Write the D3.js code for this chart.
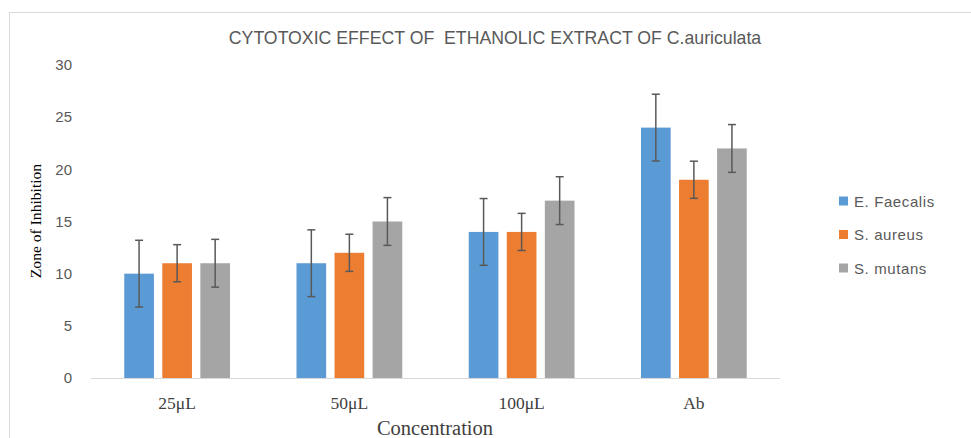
<!DOCTYPE html>
<html><head><meta charset="utf-8">
<script src="https://cdn.jsdelivr.net/npm/d3@7"></script>
<style>
body{margin:0;background:#fff;}
svg{display:block;}
</style></head>
<body><svg id="chart" width="971" height="438"></svg>
<script>
const categories = ["25μL", "50μL", "100μL", "Ab"];
const seriesNames = ["E. Faecalis", "S. aureus", "S. mutans"];
const eFaecalis = [10, 11, 14, 24];
const sAureus = [11, 12, 14, 19];
const sMutans = [11, 15, 17, 22];
const eFaecalisErr = [3.2, 3.2, 3.2, 3.2];
const sAureusErr = [1.78, 1.78, 1.78, 1.78];
const sMutansErr = [2.29, 2.29, 2.29, 2.29];
const yTicks = [0, 5, 10, 15, 20, 25, 30];
const colors = ["#5b9bd5", "#ed7d31", "#a5a5a5"];

const series = [eFaecalis, sAureus, sMutans];
const errs = [eFaecalisErr, sAureusErr, sMutansErr];

const svg = d3.select("#chart");
const sansFont = "'Liberation Sans Narrow','Arial Narrow','Liberation Sans',Arial,sans-serif";
const serifFont = "'Liberation Serif','Times New Roman',serif";
const textColor = "#595959";

// chart border
svg.append("rect").attr("x", 9.5).attr("y", 12.5).attr("width", 980).attr("height", 440)
  .attr("fill", "none").attr("stroke", "#d9d9d9").attr("stroke-width", 1);

const pLeft = 91, pRight = 780, pTop = 65, pBottom = 378;
const x = d3.scaleBand().domain(categories).range([pLeft, pRight]).paddingInner(0.386).paddingOuter(0.193);
const x1 = d3.scaleBand().domain(seriesNames).range([0, x.bandwidth()]).paddingInner(0.22);
const y = d3.scaleLinear().domain([0, 30]).range([pBottom, pTop]);

// title
svg.append("text").attr("x", 495).attr("y", 38).attr("text-anchor", "middle")
  .attr("dominant-baseline", "central").attr("font-family", sansFont).attr("font-size", 17.7)
  .attr("fill", textColor).style("white-space", "pre")
  .text("CYTOTOXIC EFFECT OF  ETHANOLIC EXTRACT OF C.auriculata");

// y axis labels
const yAxis = d3.axisLeft(y).tickValues(yTicks).tickSize(0).tickPadding(0);
const yg = svg.append("g").attr("transform", `translate(${72},0)`).call(yAxis);
yg.select(".domain").remove();
yg.selectAll("text").attr("font-family", sansFont).attr("font-size", 15).attr("fill", textColor);

// baseline
svg.append("line").attr("x1", pLeft).attr("x2", pRight).attr("y1", y(0) + 0.5).attr("y2", y(0) + 0.5)
  .attr("stroke", "#d9d9d9").attr("stroke-width", 1);

// bars
const groups = svg.append("g").selectAll("g").data(categories).join("g")
  .attr("transform", d => `translate(${x(d)},0)`);
seriesNames.forEach((s, si) => {
  groups.append("rect")
    .attr("x", x1(s)).attr("width", x1.bandwidth())
    .attr("y", (d, i) => y(series[si][i]))
    .attr("height", (d, i) => y(0) - y(series[si][i]))
    .attr("fill", colors[si]);
});

// error bars
seriesNames.forEach((s, si) => {
  const g = groups.append("g").attr("stroke", "#595959").attr("stroke-width", 1.5);
  const cx = x1(s) + x1.bandwidth() / 2;
  g.append("line").attr("x1", cx).attr("x2", cx)
    .attr("y1", (d, i) => y(series[si][i] + errs[si][i]))
    .attr("y2", (d, i) => y(series[si][i] - errs[si][i]));
  g.append("line").attr("x1", cx - 4).attr("x2", cx + 4)
    .attr("y1", (d, i) => y(series[si][i] + errs[si][i]))
    .attr("y2", (d, i) => y(series[si][i] + errs[si][i]));
  g.append("line").attr("x1", cx - 4).attr("x2", cx + 4)
    .attr("y1", (d, i) => y(series[si][i] - errs[si][i]))
    .attr("y2", (d, i) => y(series[si][i] - errs[si][i]));
});

// x axis labels
const xAxis = d3.axisBottom(x).tickSize(0).tickPadding(0);
const xg = svg.append("g").attr("transform", `translate(0,${403})`).call(xAxis);
xg.select(".domain").remove();
xg.selectAll("text").attr("font-family", serifFont).attr("font-size", 17.5).attr("fill", "#404040")
  .attr("dy", null).attr("dominant-baseline", "central");

// axis titles
svg.append("text").attr("x", 435).attr("y", 428).attr("text-anchor", "middle")
  .attr("dominant-baseline", "central").attr("font-family", serifFont).attr("font-size", 20.5)
  .attr("fill", "#404040").text("Concentration");
svg.append("text").attr("transform", "translate(35,221) rotate(-90)").attr("text-anchor", "middle")
  .attr("dominant-baseline", "central").attr("font-family", serifFont).attr("font-size", 15.6)
  .attr("fill", "#000").text("Zone of Inhibition");

// legend
const legend = svg.append("g");
seriesNames.forEach((s, i) => {
  const ly = 201 + i * 33.5;
  legend.append("rect").attr("x", 839).attr("y", ly - 4.5).attr("width", 9).attr("height", 9).attr("fill", colors[i]);
  legend.append("text").attr("x", 854).attr("y", ly).attr("dominant-baseline", "central")
    .attr("font-family", sansFont).attr("font-size", 15).attr("letter-spacing", 0.6)
    .attr("fill", textColor).text(s);
});
</script></body></html>
